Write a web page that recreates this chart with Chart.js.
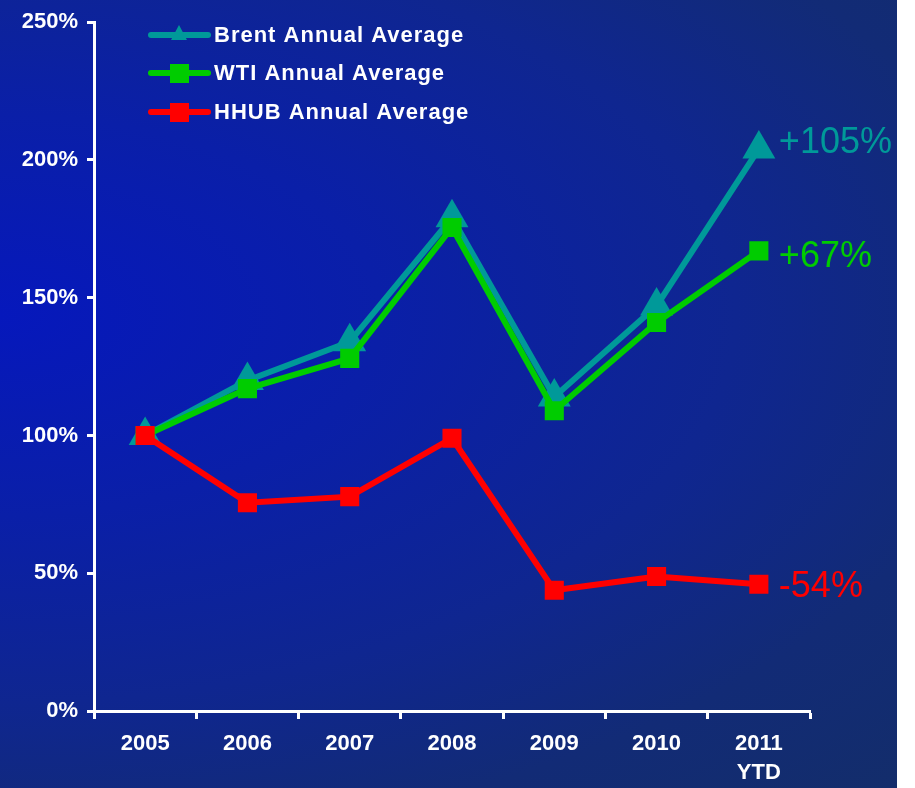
<!DOCTYPE html>
<html><head><meta charset="utf-8">
<script src="https://cdn.jsdelivr.net/npm/chart.js@4/dist/chart.umd.min.js"></script>
<style>
html,body{margin:0;padding:0;background:#fff;}
#wrap{position:absolute;left:0;top:0;width:897px;height:788px;
background:radial-gradient(ellipse farthest-corner at 0% 40%,#0618bc 0%,#0a1fa8 30%,#0f2690 58%,#122b76 80%,#132d6b 100%);}
canvas{display:block;}
</style></head>
<body>
<div id="wrap"><canvas id="c" width="897" height="788"></canvas></div>
<script>
const categories = ['2005','2006','2007','2008','2009','2010',['2011','YTD']];
const brent = [100,120,134,179,114,147,204];
const wti   = [100,117,128,175.5,109,141,167];
const hhub  = [100,75.6,77.8,99,43.8,48.8,46];
const seriesNames = ['Brent Annual Average','WTI Annual Average','HHUB Annual Average'];
const endLabels = ['+105%','+67%','-54%'];
const yTicks = [0,50,100,150,200,250];

const TEAL='#009999', GREEN='#00cc00', RED='#ff0000';
const FONT='"Liberation Sans", Arial, sans-serif';

const overlay = {
  id:'overlay',
  afterDatasetsDraw(chart){
    const ctx = chart.ctx;
    ctx.save();
    const offs = [-6,6,3];
    ctx.font = '36px '+FONT;
    ctx.textBaseline='middle';
    ctx.textAlign='left';
    chart.data.datasets.forEach((ds,i)=>{
      const meta = chart.getDatasetMeta(i);
      const pt = meta.data[meta.data.length-1];
      ctx.fillStyle = ds.borderColor;
      ctx.fillText(endLabels[i], pt.x+20, pt.y+offs[i]);
    });
    ctx.font='bold 22px '+FONT;
    try{ctx.letterSpacing='1px';}catch(e){}
    const ys=[35,73,112];
    chart.data.datasets.forEach((ds,i)=>{
      const y=ys[i];
      ctx.strokeStyle=ds.borderColor; ctx.lineWidth=6; ctx.lineCap='round';
      ctx.beginPath(); ctx.moveTo(151,y); ctx.lineTo(208,y); ctx.stroke();
      ctx.fillStyle=ds.borderColor;
      if(ds.pointStyle==='triangle'){
        ctx.beginPath(); ctx.moveTo(179,y-10); ctx.lineTo(187,y+5); ctx.lineTo(171,y+5); ctx.closePath(); ctx.fill();
      } else {
        ctx.fillRect(170,y-9,19,19);
      }
      ctx.fillStyle='#ffffff';
      ctx.fillText(ds.label,214,y+1);
    });
    ctx.restore();
  }
};

new Chart(document.getElementById('c'),{
  type:'line',
  data:{
    labels:categories,
    datasets:[
      {label:seriesNames[0],data:brent,borderColor:TEAL,backgroundColor:TEAL,borderWidth:6,pointBorderWidth:0,pointStyle:'triangle',pointRadius:19,pointHoverRadius:19,order:2,tension:0},
      {label:seriesNames[1],data:wti,borderColor:GREEN,backgroundColor:GREEN,borderWidth:6,pointBorderWidth:0,pointStyle:'rect',pointRadius:13.5,pointHoverRadius:13.5,order:1,tension:0},
      {label:seriesNames[2],data:hhub,borderColor:RED,backgroundColor:RED,borderWidth:6,pointBorderWidth:0,pointStyle:'rect',pointRadius:13.5,pointHoverRadius:13.5,order:0,tension:0}
    ]
  },
  options:{
    responsive:false,animation:false,
    layout:{padding:{left:0,right:87,top:20,bottom:0}},
    plugins:{legend:{display:false},tooltip:{enabled:false}},
    scales:{
      x:{
        offset:true,
        afterFit(s){s.height=77;},
        border:{color:'#ffffff',width:3},
        grid:{drawOnChartArea:false,drawTicks:true,tickLength:8,tickColor:'#ffffff',tickWidth:3,offset:true},
        ticks:{color:'#ffffff',font:{family:FONT,size:22,weight:'bold',lineHeight:1.3},padding:11,maxRotation:0,autoSkip:false}
      },
      y:{
        min:0,max:250,
        afterFit(s){s.width=94;},
        afterBuildTicks(s){s.ticks=yTicks.map(v=>({value:v}));},
        border:{color:'#ffffff',width:3},
        grid:{drawOnChartArea:false,drawTicks:true,tickLength:7,tickColor:'#ffffff',tickWidth:3},
        ticks:{color:'#ffffff',font:{family:FONT,size:22,weight:'bold'},padding:9,callback:v=>v+'%'}
      }
    }
  },
  plugins:[overlay]
});
</script>
</body></html>
